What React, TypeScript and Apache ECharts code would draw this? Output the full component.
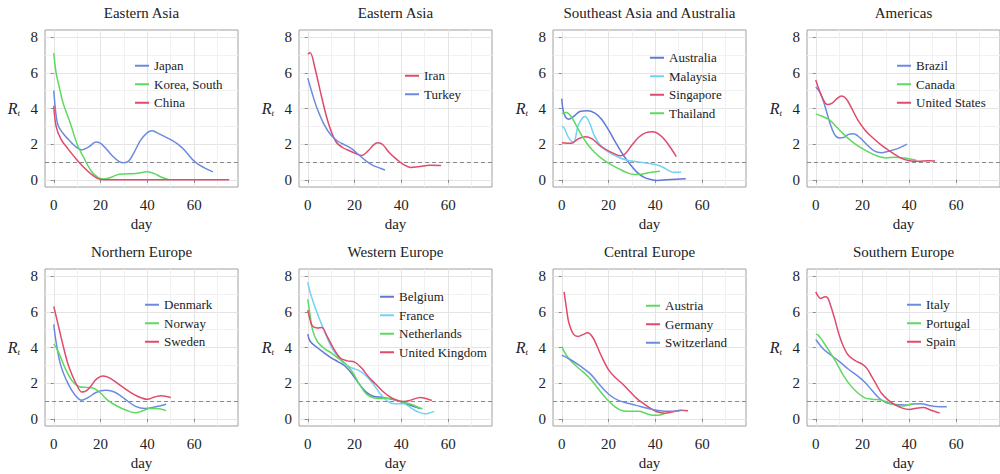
import React, { useEffect, useRef } from 'react';
import * as echarts from 'echarts';

// ---------- data ----------
const panelTitles = [
  'Eastern Asia', 'Eastern Asia', 'Southeast Asia and Australia', 'Americas',
  'Northern Europe', 'Western Europe', 'Central Europe', 'Southern Europe',
];
const dayLabels = [0, 20, 40, 60];
const dayGridValues = [0, 10, 20, 30, 40, 50, 60, 70];
const rtLabels = [0, 2, 4, 6, 8];
const rtGridValues = [0, 1, 2, 3, 4, 5, 6, 7, 8];
const threshold = 1;

const japan = [[0,5.0],[1,3.6],[2,3.0],[4,2.6],[6,2.3],[9,1.9],[12,1.68],[15,1.85],[18,2.12],[20,2.05],[22,1.8],[25,1.35],[28,1.02],[30,0.96],[32,1.05],[34,1.45],[37,2.2],[40,2.65],[42,2.75],[44,2.65],[47,2.45],[50,2.25],[53,2.0],[56,1.65],[60,1.05],[64,0.7],[68,0.45]];
const korea = [[0,7.1],[1,6.0],[2,5.4],[4,4.3],[7,3.2],[10,2.0],[13,1.2],[16,0.5],[19,0.12],[21,0.05],[24,0.12],[27,0.28],[30,0.33],[35,0.36],[40,0.45],[43,0.35],[46,0.15],[49,0.02]];
const china = [[0,4.15],[1,3.0],[3,2.3],[6,1.75],[10,1.1],[14,0.55],[17,0.22],[20,0.02],[24,0],[40,0],[60,0],[75,0]];

const iran = [[0,7.05],[1,7.12],[3,6.3],[6,4.6],[9,3.1],[12,2.15],[15,1.8],[18,1.62],[21,1.45],[23,1.37],[26,1.65],[28,1.95],[30,2.08],[32,1.98],[35,1.5],[38,1.15],[41,0.85],[44,0.7],[48,0.75],[52,0.82],[57,0.8]];
const turkey = [[0,5.7],[2,4.8],[4,4.0],[7,3.1],[10,2.5],[13,2.15],[16,1.95],[19,1.72],[22,1.38],[25,1.05],[28,0.8],[31,0.65],[33,0.55]];

const australia = [[0,4.55],[1,3.7],[3,3.4],[5,3.55],[8,3.85],[11,3.88],[14,3.75],[17,3.4],[20,2.8],[23,2.1],[26,1.45],[29,0.9],[32,0.45],[35,0.15],[38,0.02],[41,-0.03],[45,0],[49,0.03],[53,0.06]];
const malaysia = [[0,3.0],[1,2.92],[3,2.35],[5,2.1],[7,3.05],[9,3.5],[10,3.55],[12,3.15],[14,2.45],[17,1.85],[20,1.55],[24,1.28],[28,1.1],[32,1.02],[36,0.95],[40,0.86],[43,0.72],[46,0.5],[48,0.42],[51,0.43]];
const singapore = [[0,2.08],[4,2.05],[7,2.3],[10,2.42],[13,2.3],[16,1.95],[19,1.7],[22,1.5],[25,1.35],[27,1.45],[30,1.95],[33,2.4],[36,2.65],[39,2.7],[41,2.6],[44,2.25],[47,1.7],[49,1.3]];
const thailand = [[0,3.72],[2,3.78],[4,3.55],[6,3.1],[8,2.6],[11,2.0],[14,1.55],[17,1.2],[21,0.85],[25,0.58],[28,0.4],[31,0.3],[34,0.32],[37,0.4],[42,0.48]];

const brazil = [[0,5.2],[2,4.85],[4,4.1],[6,3.2],[8,2.55],[10,2.35],[12,2.38],[14,2.55],[16,2.58],[19,2.35],[22,1.95],[25,1.62],[28,1.52],[31,1.6],[35,1.75],[39,2.0]];
const canada = [[0,3.7],[3,3.55],[6,3.35],[9,2.95],[12,2.55],[15,2.2],[18,1.9],[22,1.6],[26,1.35],[30,1.23],[34,1.27],[38,1.22],[41,1.15],[43,1.1]];
const unitedStates = [[0,5.6],[1,5.2],[3,4.55],[5,4.22],[7,4.3],[9,4.55],[11,4.7],[13,4.55],[15,4.1],[18,3.35],[21,2.8],[24,2.4],[28,1.95],[32,1.58],[36,1.25],[40,1.07],[44,1.04],[48,1.07],[51,1.06]];

const denmark = [[0,5.3],[1,4.3],[3,3.0],[6,2.0],[9,1.35],[12,1.05],[15,1.22],[18,1.48],[22,1.6],[25,1.55],[28,1.35],[31,1.05],[35,0.7],[39,0.58],[43,0.66],[48,0.82]];
const norway = [[0,4.2],[2,3.75],[5,2.8],[8,2.1],[11,1.8],[14,1.76],[17,1.72],[20,1.45],[23,1.05],[27,0.72],[31,0.48],[35,0.34],[38,0.45],[41,0.58],[44,0.58],[48,0.46]];
const sweden = [[0,6.3],[2,5.2],[4,4.1],[6,3.1],[8,2.4],[10,1.85],[12,1.5],[14,1.58],[16,1.85],[18,2.2],[21,2.4],[24,2.28],[28,1.92],[32,1.55],[36,1.25],[40,1.1],[43,1.22],[46,1.3],[50,1.2]];

const belgium = [[0,4.75],[1,4.35],[4,4.0],[7,3.7],[10,3.42],[13,3.2],[16,2.95],[19,2.5],[22,1.95],[25,1.5],[28,1.27],[32,1.2],[36,1.1],[40,0.95],[44,0.75],[48,0.58]];
const france = [[0,7.65],[1,7.1],[3,6.3],[5,5.6],[7,4.95],[10,4.05],[13,3.45],[16,3.05],[19,2.85],[22,2.7],[25,2.4],[28,1.95],[31,1.4],[34,1.0],[37,0.85],[41,0.85],[44,0.62],[47,0.4],[50,0.28],[54,0.42]];
const netherlands = [[0,6.7],[1,5.8],[2,5.0],[4,4.35],[7,3.95],[10,3.7],[13,3.4],[16,3.1],[19,2.65],[22,1.95],[25,1.4],[28,1.18],[31,1.14],[35,1.16],[39,1.0],[44,0.82],[49,0.55]];
const unitedKingdom = [[0,6.1],[1,5.55],[2,5.2],[4,5.1],[6,5.12],[8,4.7],[11,3.95],[14,3.4],[17,3.25],[20,3.18],[23,2.85],[26,2.35],[29,1.95],[32,1.55],[35,1.25],[38,1.05],[41,0.98],[44,1.05],[48,1.2],[53,1.03]];

const austria = [[0,4.05],[2,3.55],[5,3.1],[8,2.75],[11,2.4],[14,1.95],[17,1.45],[20,1.0],[23,0.65],[26,0.45],[30,0.42],[33,0.42],[36,0.3],[39,0.2],[42,0.22],[44,0.3]];
const germany = [[1,7.12],[2,6.2],[3,5.4],[5,4.75],[7,4.62],[9,4.72],[11,4.82],[13,4.62],[15,4.1],[17,3.5],[20,2.75],[23,2.3],[26,1.95],[29,1.55],[32,1.15],[35,0.85],[38,0.58],[41,0.38],[44,0.32],[47,0.38],[51,0.48],[54,0.45]];
const switzerland = [[0,3.57],[4,3.3],[8,2.95],[12,2.55],[15,2.1],[18,1.65],[21,1.28],[24,1.05],[27,0.92],[30,0.82],[34,0.68],[38,0.55],[42,0.45],[46,0.42],[51,0.47]];

const italy = [[0,4.45],[3,3.95],[6,3.62],[10,3.22],[14,2.78],[18,2.4],[21,2.05],[24,1.6],[27,1.17],[30,0.92],[34,0.8],[38,0.78],[42,0.84],[45,0.85],[49,0.73],[53,0.68],[56,0.68]];
const portugal = [[0,4.75],[1,4.7],[3,4.35],[6,3.75],[9,3.1],[12,2.4],[15,1.85],[18,1.45],[21,1.18],[24,1.1],[28,1.05],[31,0.92],[34,0.78],[37,0.72],[40,0.8],[42,0.85]];
const spain = [[0,7.12],[1,6.88],[2,6.75],[4,6.85],[5,6.8],[6,6.5],[8,5.65],[10,4.7],[12,4.0],[14,3.55],[17,3.25],[20,3.05],[22,2.8],[24,2.35],[26,1.9],[28,1.45],[31,1.05],[34,0.78],[37,0.6],[40,0.53],[43,0.6],[46,0.63],[49,0.5],[53,0.32]];

// ---------- style ----------
const BLUE = '#6c8be0';
const DBLUE = '#6178d6';
const GREEN = '#5fd862';
const RED = '#e04a6b';
const CYAN = '#72d2f6';
const FONT = 'Liberation Serif';

const panels: [string, number[][], string][][] = [
  [['Japan', japan, BLUE], ['Korea, South', korea, GREEN], ['China', china, RED]],
  [['Iran', iran, RED], ['Turkey', turkey, BLUE]],
  [['Australia', australia, DBLUE], ['Malaysia', malaysia, CYAN], ['Singapore', singapore, RED], ['Thailand', thailand, GREEN]],
  [['Brazil', brazil, BLUE], ['Canada', canada, GREEN], ['United States', unitedStates, RED]],
  [['Denmark', denmark, BLUE], ['Norway', norway, GREEN], ['Sweden', sweden, RED]],
  [['Belgium', belgium, DBLUE], ['France', france, CYAN], ['Netherlands', netherlands, GREEN], ['United Kingdom', unitedKingdom, RED]],
  [['Austria', austria, GREEN], ['Germany', germany, RED], ['Switzerland', switzerland, BLUE]],
  [['Italy', italy, BLUE], ['Portugal', portugal, GREEN], ['Spain', spain, RED]],
];

const colLeft = [45, 299, 553, 807];
const rowTop = [30, 269];
const plotW = 193;
const plotH = 157;
const legendOffset = [[90, 59], [106, 69], [97, 51], [90, 59], [100, 298], [81, 290], [93, 299], [100, 298]];

function buildOption() {
  const grid: any[] = [];
  const xAxis: any[] = [];
  const yAxis: any[] = [];
  const xGridAxes: any[] = [];
  const yGridAxes: any[] = [];
  const series: any[] = [];
  const legend: any[] = [];
  const title: any[] = [];
  const labelStyle = { color: '#222', fontFamily: FONT, fontSize: 15 };
  const gridOnly = {
    axisLine: { show: false }, axisLabel: { show: false },
    splitLine: { show: true, lineStyle: { color: ['#e4e4e4', '#f1f1f1'], width: 1 } },
  };
  const tickStyle = { show: true, length: 3, lineStyle: { color: '#8a8a8a', width: 1 } };
  panels.forEach((lines, i) => {
    const left = colLeft[i % 4];
    const top = rowTop[Math.floor(i / 4)];
    grid.push({ left, top, width: plotW, height: plotH, show: true, backgroundColor: '#fff', borderColor: '#a0a0a0', borderWidth: 1 });
    xAxis.push({
      gridIndex: i, type: 'value', min: -3.75, max: 78.75, position: 'bottom',
      axisLine: { show: false }, splitLine: { show: false },
      axisTick: { ...tickStyle, customValues: dayLabels },
      axisLabel: { customValues: dayLabels, margin: 10, ...labelStyle },
      name: 'day', nameLocation: 'middle', nameGap: 29,
      nameTextStyle: { ...labelStyle },
    });
    xGridAxes.push({
      gridIndex: i, type: 'value', min: -3.75, max: 78.75, ...gridOnly,
      axisTick: { show: false, customValues: dayGridValues },
    });
    yAxis.push({
      gridIndex: i, type: 'value', min: -0.4, max: 8.4, position: 'left',
      axisLine: { show: false }, splitLine: { show: false },
      axisTick: { ...tickStyle, customValues: rtLabels },
      axisLabel: { customValues: rtLabels, margin: 7, ...labelStyle },
      name: '{r|R}{t|t}', nameLocation: 'middle', nameRotate: 0, nameGap: 25,
      nameTextStyle: {
        rich: {
          r: { fontFamily: FONT, fontStyle: 'italic', fontSize: 16, color: '#222' },
          t: { fontFamily: FONT, fontStyle: 'italic', fontSize: 9, color: '#222', padding: [8, 0, 0, 0] },
        },
      },
    });
    yGridAxes.push({
      gridIndex: i, type: 'value', min: -0.4, max: 8.4, ...gridOnly,
      axisTick: { show: false, customValues: rtGridValues },
    });
    title.push({
      text: panelTitles[i], left: left + plotW / 2, top: top - 25, textAlign: 'center', padding: 0,
      textStyle: { fontFamily: FONT, fontSize: 15, fontWeight: 'normal', color: '#222' },
    });
    legend.push({
      data: lines.map((l) => l[0]), orient: 'vertical',
      left: left + legendOffset[i][0], top: legendOffset[i][1],
      icon: 'rect', itemWidth: 14, itemHeight: 2, itemGap: 5, selectedMode: false, padding: 0,
      textStyle: { fontFamily: FONT, fontSize: 13, color: '#222', lineHeight: 13.5 },
    });
    lines.forEach(([name, data, color], k) => {
      const s: any = {
        name, type: 'line', xAxisIndex: i, yAxisIndex: i, data, smooth: 0.35,
        showSymbol: false, symbol: 'none', lineStyle: { color, width: 1.5 }, itemStyle: { color }, z: 3,
      };
      if (k === 0) {
        s.markLine = {
          silent: true, symbol: 'none', label: { show: false }, z: 2,
          lineStyle: { type: [4, 3], color: '#8a8a8a', width: 1 },
          data: [{ yAxis: threshold }],
        };
      }
      series.push(s);
    });
  });
  return {
    animation: false, backgroundColor: '#fff', grid,
    xAxis: [...xAxis, ...xGridAxes], yAxis: [...yAxis, ...yGridAxes],
    series, legend, title,
  };
}

export default function App() {
  const ref = useRef<HTMLDivElement>(null);
  useEffect(() => {
    if (!ref.current) return;
    const chart = echarts.init(ref.current, undefined, { renderer: 'svg' });
    chart.setOption(buildOption() as any);
    return () => chart.dispose();
  }, []);
  return <div ref={ref} style={{ position: 'fixed', left: 0, top: 0, width: 1000, height: 474 }} />;
}
